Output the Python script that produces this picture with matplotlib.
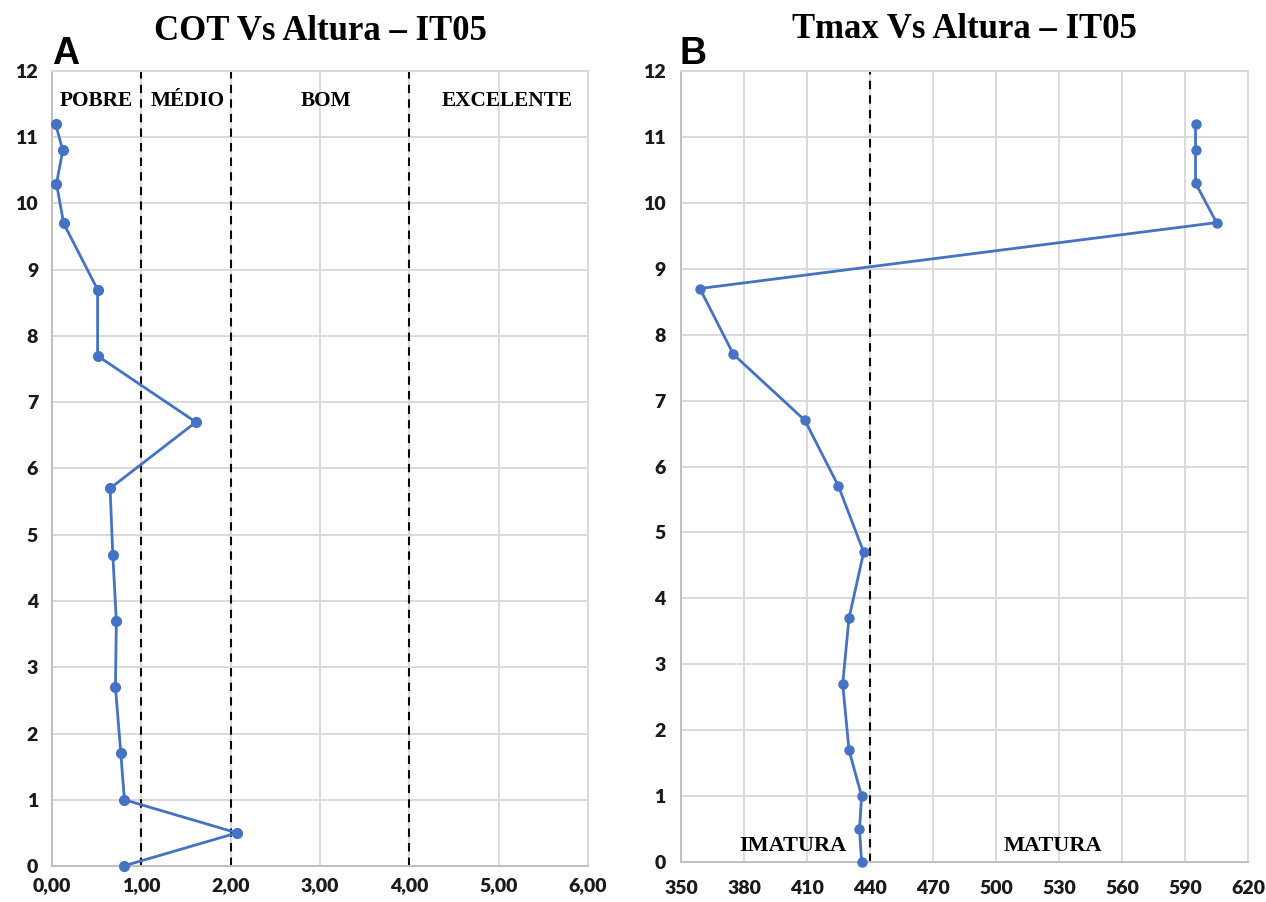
import matplotlib
matplotlib.use('Agg')
import matplotlib.pyplot as plt

# dados
profundidade = [11.2, 10.8, 10.3, 9.7, 8.7, 7.7, 6.7, 5.7, 4.7, 3.7, 2.7, 1.7, 1.0, 0.5, 0.0]
cot = [0.04, 0.12, 0.05, 0.13, 0.51, 0.51, 1.61, 0.65, 0.68, 0.72, 0.71, 0.77, 0.81, 2.07, 0.80]
tmax = [595, 595, 595, 605, 359, 375, 409, 425, 437, 430, 427, 430, 436, 435, 436]

cot_limites = [1, 2, 4]
cot_classes = ['POBRE', 'MÉDIO', 'BOM', 'EXCELENTE']
cot_classes_x = [0.5, 1.52, 3.07, 5.1]
cot_ticks = [0, 1, 2, 3, 4, 5, 6]
cot_ticklabels = ['0,00', '1,00', '2,00', '3,00', '4,00', '5,00', '6,00']

tmax_limite = 440
tmax_classes = ['IMATURA', 'MATURA']
tmax_classes_x = [403.5, 527]
tmax_ticks = [350, 380, 410, 440, 470, 500, 530, 560, 590, 620]

y_ticks = list(range(0, 13))

azul = '#4472C4'
cinza = '#d9d9d9'

fig = plt.figure(figsize=(12.66, 9.02), dpi=100)
ax1 = fig.add_axes([0.0411, 0.0399, 0.4234, 0.8814])
ax2 = fig.add_axes([0.5379, 0.0443, 0.4479, 0.877])


def estilo(ax, pad_y, pad_x):
    ax.set_facecolor('white')
    ax.grid(True, color=cinza, linewidth=1.4)
    ax.set_axisbelow(True)
    for s in ax.spines.values():
        s.set_color(cinza)
        s.set_linewidth(1.4)
    ax.spines['left'].set_color('#bfbfbf')
    ax.spines['bottom'].set_color('#bfbfbf')
    ax.tick_params(axis='y', length=0, pad=pad_y)
    ax.tick_params(axis='x', length=0, pad=pad_x)
    ax.set_ylim(0, 12)
    ax.set_yticks(y_ticks)
    for lab in ax.get_xticklabels() + ax.get_yticklabels():
        lab.set_fontfamily('Lato')
        lab.set_fontweight('heavy')
        lab.set_fontsize(14)
        lab.set_color('#1a1a1a')


# painel A
ax1.set_xlim(0, 6)
ax1.set_xticks(cot_ticks)
ax1.set_xticklabels(cot_ticklabels)
for xl in cot_limites:
    ax1.axvline(xl, color='black', linestyle=(0, (4, 3)), linewidth=1.5, zorder=2)
ax1.plot(cot, profundidade, color=azul, linewidth=2, marker='o', markersize=7, zorder=3, clip_on=False)
for nome, xc in zip(cot_classes, cot_classes_x):
    ax1.text(xc, 11.54, nome, ha='center', va='center', fontfamily='Liberation Serif',
             fontweight='bold', fontsize=15.3)
ax1.set_title('COT Vs Altura – IT05', fontfamily='Liberation Serif', fontweight='bold',
              fontsize=25, pad=22)
estilo(ax1, 10, 8)

# painel B
ax2.set_xlim(350, 620)
ax2.set_xticks(tmax_ticks)
ax2.axvline(tmax_limite, color='black', linestyle=(0, (4, 3)), linewidth=1.5, zorder=2)
ax2.plot(tmax, profundidade, color=azul, linewidth=2, marker='o', markersize=6.5, zorder=3, clip_on=False)
for nome, xc in zip(tmax_classes, tmax_classes_x):
    ax2.text(xc, 0.24, nome, ha='center', va='center', fontfamily='Liberation Serif',
             fontweight='bold', fontsize=16)
ax2.set_title('Tmax Vs Altura – IT05', fontfamily='Liberation Serif', fontweight='bold',
              fontsize=25, pad=24)
estilo(ax2, 11, 13)

fig.text(52 / 1266, 1 - 64 / 902, 'A', fontfamily='Liberation Sans', fontweight='bold',
         fontsize=27, va='baseline', ha='left')
fig.text(680 / 1266, 1 - 64 / 902, 'B', fontfamily='Liberation Sans', fontweight='bold',
         fontsize=27, va='baseline', ha='left')

fig.savefig('out.png', dpi=100, facecolor='white')
